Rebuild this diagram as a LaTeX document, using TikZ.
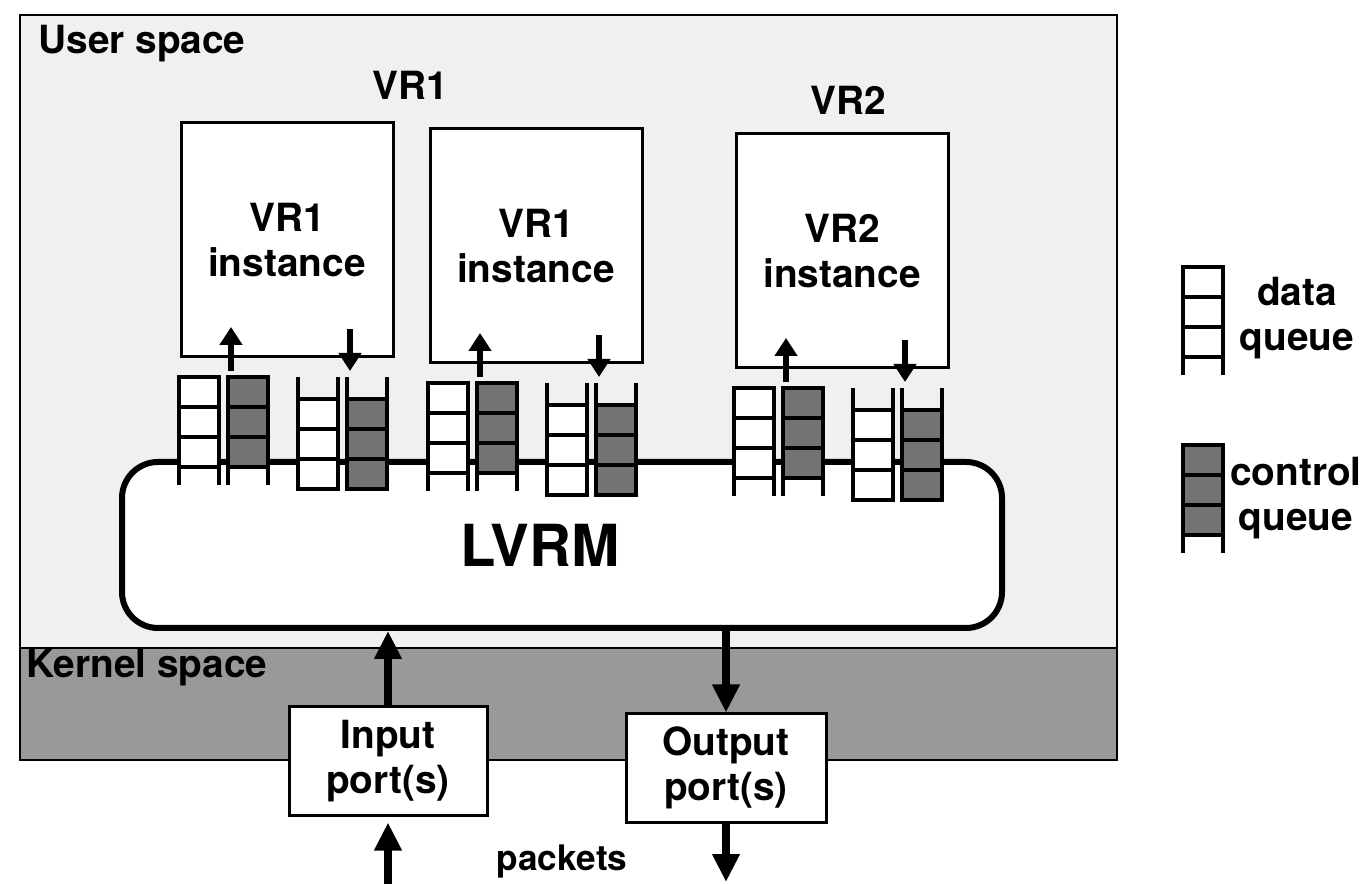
\documentclass[tikz,border=0pt]{standalone}
\usepackage{fontspec}
\setmainfont{TeX Gyre Heros}
\usetikzlibrary{arrows.meta,positioning}

\tikzset{
  lbl/.style={font=\fontsize{9.7}{11.2}\selectfont\bfseries, align=center, inner sep=0pt},
  vrbox/.style={draw, line width=0.75pt, fill=white, lbl, minimum width=53pt, minimum height=58.5pt},
  portbox/.style={draw, line width=0.75pt, fill=white, lbl, minimum width=49.5pt, minimum height=27pt},
  ql/.style={line width=0.8pt},
  dq/.style={fill=white},
  cq/.style={fill=black!55},
  sarr/.style={-{Triangle[length=4.5pt,width=5.5pt]}, line width=1.3pt},
  barr/.style={-{Triangle[length=7pt,width=6.5pt]}, line width=2pt},
}

% queue closed at the top (towards the VR)
\newcommand{\inqueue}[3]{%
  \fill[#3] (#1,#2) rectangle ++(40,90);
  \draw[ql] (#1,#2) ++(0,108) -- ++(0,-108) -- ++(40,0) -- ++(0,108);
  \foreach \k in {1,2,3} {\draw[ql] (#1,#2) ++(0,30*\k) -- ++(40,0);}
}
% queue closed at the bottom (towards LVRM)
\newcommand{\outqueue}[3]{%
  \fill[#3] (#1,#2) ++(0,22) rectangle ++(40,90);
  \draw[ql] (#1,#2) -- ++(0,112) -- ++(40,0) -- ++(0,-112);
  \foreach \k in {0,1,2} {\draw[ql] (#1,#2) ++(0,22+30*\k) -- ++(40,0);}
}

\begin{document}
\begin{tikzpicture}[x=0.25pt,y=-0.25pt]
  \useasboundingbox (0,0) rectangle (1367,884);

  % user and kernel space
  \draw[line width=0.6pt, fill=black!6] (20,15) rectangle (1117,760);
  \draw[line width=0.6pt, fill=black!40] (20,648) rectangle (1117,760);
  \node[lbl] (user) at (142,44) {User space};
  \node[lbl] (kernel) at (147,668) {Kernel space};

  % LVRM
  \node[draw, line width=1.5pt, fill=white, rounded corners=9pt,
        minimum width=220pt, minimum height=41.5pt] (lvrm) at (562,545) {};
  \node[lbl, font=\fontsize{14.5}{16}\selectfont\bfseries] (lvrmtxt) at (540,545) {LVRM};

  % VR instances with their queues
  \foreach \gx/\T/\nm/\lab in {179/377/vra/{VR1\\instance},
                               428/383/vrb/{VR1\\instance},
                               734/388/vrc/{VR2\\instance}} {
    \inqueue{\gx}{\T}{dq}
    \inqueue{\gx+49}{\T}{cq}
    \outqueue{\gx+119}{\T}{dq}
    \outqueue{\gx+168}{\T}{cq}
    \node[vrbox] (\nm) at (\gx+108,\T-137) {\lab};
    \coordinate (\nm up) at (\gx+52,\T-6);
    \coordinate (\nm dn) at (\gx+171,\T-6);
    \draw[sarr] (\nm up) -- (\gx+52,\T-50);
    \draw[sarr] (\gx+171,\T-48) -- (\nm dn);
  }
  \node[lbl] (vr1) at (410,85) {VR1};
  \node[lbl] (vr2) at (848,100) {VR2};

  % ports
  \node[portbox] (inp) at (388,761) {Input\\port(s)};
  \node[portbox, minimum width=50pt] (outp) at (726,768) {Output\\port(s)};
  \draw[barr] (inp.north) -- (inp.north |- lvrm.south);
  \draw[barr] (lvrm.south -| outp.north) -- (outp.north);
  \coordinate (pin) at (388,884);
  \coordinate (pout) at (726,882);
  \draw[barr, shorten >=1.5pt] (pin) -- (inp.south);
  \draw[barr] (outp.south) -- (pout);
  \node[lbl, font=\fontsize{8.8}{10}\selectfont\bfseries] (pk) at (562,862) {packets};

  % legend
  \inqueue{1183}{267}{dq}
  \inqueue{1183}{445}{cq}
  \node[lbl] (ldata) at (1297,318) {data\\queue};
  \node[lbl] (lctrl) at (1296,498) {control\\queue};
\end{tikzpicture}
\end{document}
